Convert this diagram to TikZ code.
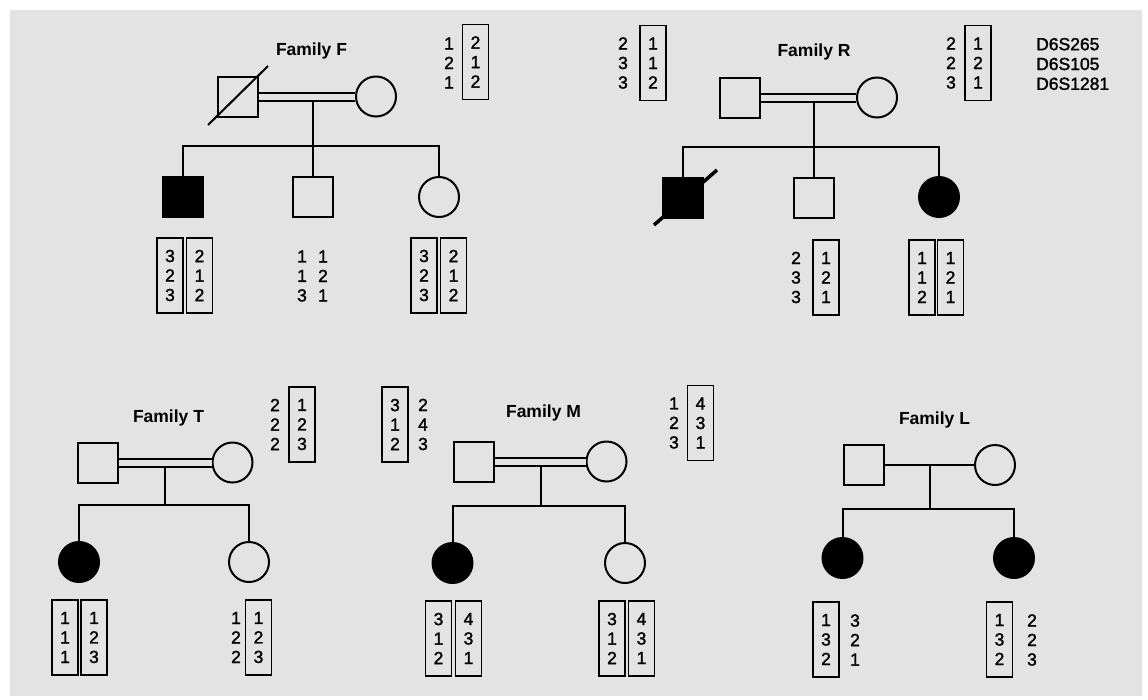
\documentclass[tikz,border=0pt]{standalone}
\usepackage{fontspec}
\setmainfont{Liberation Sans}
\newfontfamily\hapfont[FakeBold=1.6]{Liberation Sans}
\usetikzlibrary{calc}
\definecolor{bgc}{gray}{0.89}
\begin{document}
\begin{tikzpicture}[x=1pt,y=-1pt,
  male/.style={draw,rectangle,minimum size=40pt,inner sep=0pt,line width=2pt},
  female/.style={draw,circle,minimum size=40pt,inner sep=0pt,line width=2pt},
  aff/.style={fill=black},
  hb/.style={draw,rectangle,minimum width=26pt,minimum height=75pt,inner sep=0pt,align=center,line width=1.8pt,font=\hapfont\fontsize{17.5}{19.5}\selectfont},
  hc/.style={inner sep=0pt,align=center,font=\hapfont\fontsize{17.5}{19.5}\selectfont},
  lab/.style={inner sep=0pt,font=\fontsize{17.5}{20}\selectfont\bfseries},
  dbl/.style={line width=2pt,double=bgc,double distance=6pt},
  ln/.style={line width=2pt}]
\useasboundingbox (0,0) rectangle (1148,699);
\fill[bgc] (10,10) rectangle (1142,696);

% ---------------- Family F ----------------
\node[lab] (labF) at (311.5,51) {Family F};
\node[male] (fF) at (237.5,96.5) {};
\node[female] (mF) at (376,96.5) {};
\draw[dbl] (fF) -- (mF);
\coordinate (Fj) at (313,100.5);
\coordinate (Fs) at (313,146);
\coordinate (Fd1) at (208,125);
\coordinate (Fd2) at (268,66);
\draw[ln] (Fd1) -- (Fd2);
\node[male,aff] (cF1) at (182.5,197) {};
\node[male] (cF2) at (313,197) {};
\node[female] (cF3) at (439,197) {};
\draw[ln] (Fj) -- (cF2.north);
\draw[ln] (cF1.north) |- (Fs) -| (cF3.north);
\node[hc] (hF1) at (449,63) {1\\2\\1};
\node[hb] (hF2) at (475.5,62) {2\\1\\2};
\node[hb] (hF3) at (170,275.5) {3\\2\\3};
\node[hb] (hF4) at (199.5,275.5) {2\\1\\2};
\node[hc] (hF5) at (302,276) {1\\1\\3};
\node[hc] (hF6) at (323,276) {1\\2\\1};
\node[hb] (hF7) at (424,275.5) {3\\2\\3};
\node[hb] (hF8) at (453.5,275.5) {2\\1\\2};

% ---------------- Family R ----------------
\node[lab] (labR) at (814,52) {Family R};
\node[hc] (hR1) at (623,63) {2\\3\\3};
\node[hb] (hR2) at (653,63) {1\\1\\2};
\node[male] (fR) at (739.5,97.5) {};
\node[female] (mR) at (877,97.5) {};
\draw[dbl] (fR) -- (mR);
\coordinate (Rj) at (814,101.5);
\coordinate (Rs) at (814,147);
\node[male,aff] (cR1) at (683,197.5) {};
\coordinate (Rd1) at (654,225);
\coordinate (Rd2) at (717,170);
\draw[line width=3.5pt] (Rd1) -- (Rd2);
\node[male] (cR2) at (814,197.5) {};
\node[female,aff] (cR3) at (939,197) {};
\draw[ln] (Rj) -- (cR2.north);
\draw[ln] (cR1.north) |- (Rs) -| (cR3.north);
\node[hc] (hR3) at (951,63) {2\\2\\3};
\node[hb] (hR4) at (978,63) {1\\2\\1};
\node[inner sep=0pt,anchor=west,align=left,font=\hapfont\fontsize{17.5}{19.8}\selectfont] (mk) at (1036,64) {D6S265\\D6S105\\D6S1281};
\node[hc] (hR5) at (796,277.5) {2\\3\\3};
\node[hb] (hR6) at (826,277.5) {1\\2\\1};
\node[hb] (hR7) at (922,277.5) {1\\1\\2};
\node[hb] (hR8) at (950.5,277.5) {1\\2\\1};

% ---------------- Family T ----------------
\node[lab] (labT) at (168.5,418) {Family T};
\node[male] (fT) at (98,462.5) {};
\node[female] (mT) at (232.5,462.5) {};
\draw[dbl] (fT) -- (mT);
\coordinate (Tj) at (165,466.5);
\coordinate (Ts) at (165,505);
\node[female,aff] (cT1) at (79,562) {};
\node[female] (cT2) at (249,562) {};
\draw[ln] (Tj) -- (Ts);
\draw[ln] (cT1.north) |- (Ts) -| (cT2.north);
\node[hc] (hT1) at (275,424.5) {2\\2\\2};
\node[hb] (hT2) at (302,424.5) {1\\2\\3};
\node[hb] (hT3) at (65,637.5) {1\\1\\1};
\node[hb] (hT4) at (94,637.5) {1\\2\\3};
\node[hc] (hT5) at (236,637.5) {1\\2\\2};
\node[hb] (hT6) at (258.5,637.5) {1\\2\\3};

% ---------------- Family M ----------------
\node[lab] (labM) at (543.5,413) {Family M};
\node[hb] (hM1) at (395,424.5) {3\\1\\2};
\node[hc] (hM2) at (423,424.5) {2\\4\\3};
\node[male] (fM) at (473.5,461.5) {};
\node[female] (mM) at (606.5,461.5) {};
\draw[dbl] (fM) -- (mM);
\coordinate (Mj) at (541,465.5);
\coordinate (Ms) at (541,506);
\node[female,aff] (cM1) at (452.5,563) {};
\node[female] (cM2) at (625,563) {};
\draw[ln] (Mj) -- (Ms);
\draw[ln] (cM1.north) |- (Ms) -| (cM2.north);
\node[hc] (hM3) at (674,423) {1\\2\\3};
\node[hb] (hM4) at (700.5,423) {4\\3\\1};
\node[hb] (hM5) at (438.5,638.5) {3\\1\\2};
\node[hb] (hM6) at (468.5,638.5) {4\\3\\1};
\node[hb] (hM7) at (612,638.5) {3\\1\\2};
\node[hb] (hM8) at (641.5,638.5) {4\\3\\1};

% ---------------- Family L ----------------
\node[lab] (labL) at (934.5,420) {Family L};
\node[male] (fL) at (863.5,465) {};
\node[female] (mL) at (995,465) {};
\draw[ln] (fL) -- (mL);
\coordinate (Lj) at (930,465);
\coordinate (Ls) at (930,509);
\node[female,aff] (cL1) at (842.5,558) {};
\node[female,aff] (cL2) at (1014,558) {};
\draw[ln] (Lj) -- (Ls);
\draw[ln] (cL1.north) |- (Ls) -| (cL2.north);
\node[hb] (hL1) at (826,639.5) {1\\3\\2};
\node[hc] (hL2) at (855,640) {3\\2\\1};
\node[hb] (hL3) at (999.5,639.5) {1\\3\\2};
\node[hc] (hL4) at (1032,640) {2\\2\\3};
\end{tikzpicture}
\end{document}
